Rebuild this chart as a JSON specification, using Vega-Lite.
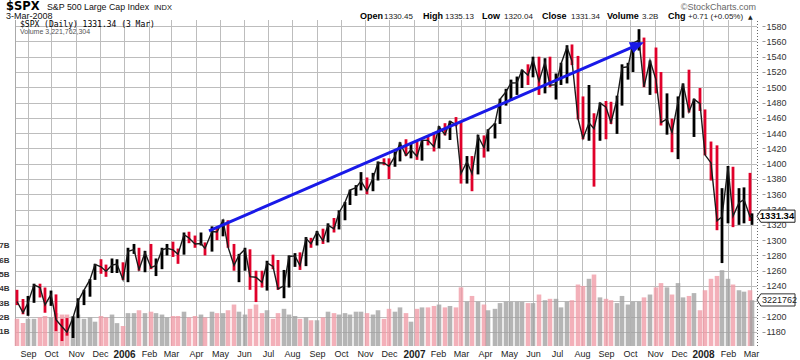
{
"$schema":"https://vega.github.io/schema/vega-lite/v6.json",
"width":752,"height":326,"autosize":"none",
"padding":{"left":10,"top":20,"right":38,"bottom":14},
"background":"white",
"config":{"view":{"stroke":null},"axis":{"labelFont":"Liberation Sans"},"text":{"font":"Liberation Sans"}},
"datasets":{
"spx":[
{"d":"2005-08-19","open":1221,"h":1235,"l":1215,"c":1219.7,"vol":1.9},
{"d":"2005-08-26","open":1219.7,"h":1223,"l":1203,"c":1205.1,"vol":1.6},
{"d":"2005-09-02","open":1205.1,"h":1227,"l":1201,"c":1218.0,"vol":1.9},
{"d":"2005-09-09","open":1218.0,"h":1243,"l":1218,"c":1241.5,"vol":1.9},
{"d":"2005-09-16","open":1241.5,"h":1243,"l":1225,"c":1237.9,"vol":2.0},
{"d":"2005-09-23","open":1237.9,"h":1238,"l":1205,"c":1215.3,"vol":2.1},
{"d":"2005-09-30","open":1215.3,"h":1234,"l":1214,"c":1228.8,"vol":2.0},
{"d":"2005-10-07","open":1228.8,"h":1229,"l":1181,"c":1195.9,"vol":2.3},
{"d":"2005-10-14","open":1195.9,"h":1197,"l":1168,"c":1186.6,"vol":2.2},
{"d":"2005-10-21","open":1186.6,"h":1198,"l":1175,"c":1179.6,"vol":2.2},
{"d":"2005-10-28","open":1179.6,"h":1200,"l":1172,"c":1198.4,"vol":2.1},
{"d":"2005-11-04","open":1198.4,"h":1224,"l":1198,"c":1220.1,"vol":2.2},
{"d":"2005-11-11","open":1220.1,"h":1235,"l":1215,"c":1234.7,"vol":1.9},
{"d":"2005-11-18","open":1234.7,"h":1249,"l":1226,"c":1248.3,"vol":2.0},
{"d":"2005-11-25","open":1248.3,"h":1269,"l":1248,"c":1268.3,"vol":1.7},
{"d":"2005-12-02","open":1268.3,"h":1275,"l":1256,"c":1265.1,"vol":2.1},
{"d":"2005-12-09","open":1265.1,"h":1268,"l":1252,"c":1259.4,"vol":2.0},
{"d":"2005-12-16","open":1259.4,"h":1276,"l":1257,"c":1267.3,"vol":2.2},
{"d":"2005-12-23","open":1267.3,"h":1275,"l":1257,"c":1268.7,"vol":1.6},
{"d":"2005-12-30","open":1268.7,"h":1271,"l":1248,"c":1248.3,"vol":1.4},
{"d":"2006-01-06","open":1248.3,"h":1290,"l":1245,"c":1285.5,"vol":2.3},
{"d":"2006-01-13","open":1285.5,"h":1295,"l":1282,"c":1287.6,"vol":2.3},
{"d":"2006-01-20","open":1287.6,"h":1290,"l":1260,"c":1261.5,"vol":2.5},
{"d":"2006-01-27","open":1261.5,"h":1286,"l":1258,"c":1283.7,"vol":2.3},
{"d":"2006-02-03","open":1283.7,"h":1295,"l":1262,"c":1264.0,"vol":2.4},
{"d":"2006-02-10","open":1264.0,"h":1276,"l":1253,"c":1266.9,"vol":2.3},
{"d":"2006-02-17","open":1266.9,"h":1290,"l":1262,"c":1287.2,"vol":2.2},
{"d":"2006-02-24","open":1287.2,"h":1295,"l":1280,"c":1289.4,"vol":2.0},
{"d":"2006-03-03","open":1289.4,"h":1298,"l":1278,"c":1287.2,"vol":2.1},
{"d":"2006-03-10","open":1287.2,"h":1289,"l":1269,"c":1281.4,"vol":2.1},
{"d":"2006-03-17","open":1281.4,"h":1310,"l":1281,"c":1307.3,"vol":2.4},
{"d":"2006-03-24","open":1307.3,"h":1311,"l":1296,"c":1302.9,"vol":2.0},
{"d":"2006-03-31","open":1302.9,"h":1306,"l":1290,"c":1294.9,"vol":2.1},
{"d":"2006-04-07","open":1294.9,"h":1310,"l":1293,"c":1295.5,"vol":2.2},
{"d":"2006-04-13","open":1295.5,"h":1297,"l":1280,"c":1289.1,"vol":2.0},
{"d":"2006-04-21","open":1289.1,"h":1318,"l":1285,"c":1311.3,"vol":2.4},
{"d":"2006-04-28","open":1311.3,"h":1316,"l":1300,"c":1310.6,"vol":2.3},
{"d":"2006-05-05","open":1310.6,"h":1327,"l":1305,"c":1325.8,"vol":2.3},
{"d":"2006-05-12","open":1325.8,"h":1326,"l":1290,"c":1291.2,"vol":2.5},
{"d":"2006-05-19","open":1291.2,"h":1295,"l":1260,"c":1267.0,"vol":2.9},
{"d":"2006-05-26","open":1267.0,"h":1282,"l":1245,"c":1280.2,"vol":2.4},
{"d":"2006-06-02","open":1280.2,"h":1290,"l":1260,"c":1288.2,"vol":2.2},
{"d":"2006-06-09","open":1288.2,"h":1288,"l":1235,"c":1252.3,"vol":2.6},
{"d":"2006-06-16","open":1252.3,"h":1260,"l":1219,"c":1251.5,"vol":2.9},
{"d":"2006-06-23","open":1251.5,"h":1260,"l":1238,"c":1244.5,"vol":2.3},
{"d":"2006-06-30","open":1244.5,"h":1273,"l":1234,"c":1270.2,"vol":2.5},
{"d":"2006-07-07","open":1270.2,"h":1281,"l":1262,"c":1265.5,"vol":1.9},
{"d":"2006-07-14","open":1265.5,"h":1274,"l":1235,"c":1236.2,"vol":2.3},
{"d":"2006-07-21","open":1236.2,"h":1261,"l":1224,"c":1240.3,"vol":2.6},
{"d":"2006-07-28","open":1240.3,"h":1280,"l":1238,"c":1278.6,"vol":2.2},
{"d":"2006-08-04","open":1278.6,"h":1283,"l":1265,"c":1279.4,"vol":2.1},
{"d":"2006-08-11","open":1279.4,"h":1284,"l":1261,"c":1266.7,"vol":1.9},
{"d":"2006-08-18","open":1266.7,"h":1304,"l":1266,"c":1302.3,"vol":2.0},
{"d":"2006-08-25","open":1302.3,"h":1303,"l":1290,"c":1295.1,"vol":1.8},
{"d":"2006-09-01","open":1295.1,"h":1312,"l":1293,"c":1311.0,"vol":1.8},
{"d":"2006-09-08","open":1311.0,"h":1315,"l":1295,"c":1299.0,"vol":2.0},
{"d":"2006-09-15","open":1299.0,"h":1322,"l":1297,"c":1319.7,"vol":2.4},
{"d":"2006-09-22","open":1319.7,"h":1329,"l":1310,"c":1314.8,"vol":2.3},
{"d":"2006-09-29","open":1314.8,"h":1339,"l":1314,"c":1335.9,"vol":2.2},
{"d":"2006-10-06","open":1335.9,"h":1350,"l":1326,"c":1349.6,"vol":2.3},
{"d":"2006-10-13","open":1349.6,"h":1366,"l":1346,"c":1365.6,"vol":2.2},
{"d":"2006-10-20","open":1365.6,"h":1372,"l":1358,"c":1368.6,"vol":2.4},
{"d":"2006-10-27","open":1368.6,"h":1389,"l":1365,"c":1377.3,"vol":2.4},
{"d":"2006-11-03","open":1377.3,"h":1382,"l":1360,"c":1364.3,"vol":2.3},
{"d":"2006-11-10","open":1364.3,"h":1388,"l":1364,"c":1380.9,"vol":2.2},
{"d":"2006-11-17","open":1380.9,"h":1403,"l":1378,"c":1401.2,"vol":2.5},
{"d":"2006-11-24","open":1401.2,"h":1407,"l":1398,"c":1400.9,"vol":1.9},
{"d":"2006-12-01","open":1400.9,"h":1407,"l":1380,"c":1396.7,"vol":2.6},
{"d":"2006-12-08","open":1396.7,"h":1416,"l":1396,"c":1409.8,"vol":2.4},
{"d":"2006-12-15","open":1409.8,"h":1428,"l":1403,"c":1427.1,"vol":2.7},
{"d":"2006-12-22","open":1427.1,"h":1432,"l":1410,"c":1410.8,"vol":2.3},
{"d":"2006-12-29","open":1410.8,"h":1427,"l":1407,"c":1418.3,"vol":1.7},
{"d":"2007-01-05","open":1418.3,"h":1429,"l":1405,"c":1409.7,"vol":2.6},
{"d":"2007-01-12","open":1409.7,"h":1431,"l":1404,"c":1430.7,"vol":2.7},
{"d":"2007-01-19","open":1430.7,"h":1437,"l":1424,"c":1430.5,"vol":2.7},
{"d":"2007-01-26","open":1430.5,"h":1441,"l":1416,"c":1422.2,"vol":2.8},
{"d":"2007-02-02","open":1422.2,"h":1449,"l":1420,"c":1448.4,"vol":2.9},
{"d":"2007-02-09","open":1448.4,"h":1453,"l":1437,"c":1438.1,"vol":2.7},
{"d":"2007-02-16","open":1438.1,"h":1456,"l":1431,"c":1455.5,"vol":2.8},
{"d":"2007-02-23","open":1455.5,"h":1461,"l":1449,"c":1451.2,"vol":2.7},
{"d":"2007-03-02","open":1451.2,"h":1456,"l":1374,"c":1387.2,"vol":4.1},
{"d":"2007-03-09","open":1387.2,"h":1410,"l":1374,"c":1402.8,"vol":3.1},
{"d":"2007-03-16","open":1402.8,"h":1410,"l":1364,"c":1386.9,"vol":3.5},
{"d":"2007-03-23","open":1386.9,"h":1438,"l":1386,"c":1436.1,"vol":3.1},
{"d":"2007-03-30","open":1436.1,"h":1437,"l":1408,"c":1420.9,"vol":2.9},
{"d":"2007-04-05","open":1420.9,"h":1445,"l":1416,"c":1443.8,"vol":2.5},
{"d":"2007-04-13","open":1443.8,"h":1453,"l":1433,"c":1452.9,"vol":2.6},
{"d":"2007-04-20","open":1452.9,"h":1485,"l":1452,"c":1484.4,"vol":3.0},
{"d":"2007-04-27","open":1484.4,"h":1498,"l":1476,"c":1494.1,"vol":3.1},
{"d":"2007-05-04","open":1494.1,"h":1510,"l":1482,"c":1505.6,"vol":3.1},
{"d":"2007-05-11","open":1505.6,"h":1514,"l":1490,"c":1505.9,"vol":3.1},
{"d":"2007-05-18","open":1505.9,"h":1523,"l":1499,"c":1522.8,"vol":3.1},
{"d":"2007-05-25","open":1522.8,"h":1530,"l":1503,"c":1515.7,"vol":3.0},
{"d":"2007-06-01","open":1515.7,"h":1540,"l":1513,"c":1536.3,"vol":3.0},
{"d":"2007-06-08","open":1536.3,"h":1540,"l":1490,"c":1507.7,"vol":3.6},
{"d":"2007-06-15","open":1507.7,"h":1538,"l":1492,"c":1532.9,"vol":3.2},
{"d":"2007-06-22","open":1532.9,"h":1540,"l":1500,"c":1502.6,"vol":3.3},
{"d":"2007-06-29","open":1502.6,"h":1518,"l":1484,"c":1503.4,"vol":3.3},
{"d":"2007-07-06","open":1503.4,"h":1532,"l":1503,"c":1530.4,"vol":2.7},
{"d":"2007-07-13","open":1530.4,"h":1555,"l":1505,"c":1552.5,"vol":3.1},
{"d":"2007-07-20","open":1552.5,"h":1556,"l":1529,"c":1534.1,"vol":3.2},
{"d":"2007-07-27","open":1534.1,"h":1541,"l":1458,"c":1458.9,"vol":4.3},
{"d":"2007-08-03","open":1458.9,"h":1488,"l":1432,"c":1433.1,"vol":4.2},
{"d":"2007-08-10","open":1433.1,"h":1503,"l":1430,"c":1453.6,"vol":4.7},
{"d":"2007-08-17","open":1453.6,"h":1466,"l":1370,"c":1445.9,"vol":5.0},
{"d":"2007-08-24","open":1445.9,"h":1480,"l":1430,"c":1479.4,"vol":3.4},
{"d":"2007-08-31","open":1479.4,"h":1482,"l":1432,"c":1473.9,"vol":3.3},
{"d":"2007-09-07","open":1473.9,"h":1481,"l":1452,"c":1454.0,"vol":3.2},
{"d":"2007-09-14","open":1454.0,"h":1489,"l":1439,"c":1484.3,"vol":3.0},
{"d":"2007-09-21","open":1484.3,"h":1530,"l":1476,"c":1525.8,"vol":3.5},
{"d":"2007-09-28","open":1525.8,"h":1532,"l":1510,"c":1526.8,"vol":2.9},
{"d":"2007-10-05","open":1526.8,"h":1559,"l":1520,"c":1557.6,"vol":3.1},
{"d":"2007-10-12","open":1557.6,"h":1576,"l":1548,"c":1561.8,"vol":3.1},
{"d":"2007-10-19","open":1561.8,"h":1565,"l":1500,"c":1500.6,"vol":3.4},
{"d":"2007-10-26","open":1500.6,"h":1535,"l":1490,"c":1535.3,"vol":3.6},
{"d":"2007-11-02","open":1535.3,"h":1552,"l":1492,"c":1509.7,"vol":4.1},
{"d":"2007-11-09","open":1509.7,"h":1520,"l":1450,"c":1453.7,"vol":4.4},
{"d":"2007-11-16","open":1453.7,"h":1492,"l":1438,"c":1458.7,"vol":4.1},
{"d":"2007-11-23","open":1458.7,"h":1459,"l":1415,"c":1440.7,"vol":3.6},
{"d":"2007-11-30","open":1440.7,"h":1488,"l":1406,"c":1481.1,"vol":4.4},
{"d":"2007-12-07","open":1481.1,"h":1505,"l":1460,"c":1504.7,"vol":3.4},
{"d":"2007-12-14","open":1504.7,"h":1523,"l":1467,"c":1467.9,"vol":3.5},
{"d":"2007-12-21","open":1467.9,"h":1485,"l":1435,"c":1484.5,"vol":3.7},
{"d":"2007-12-28","open":1484.5,"h":1499,"l":1469,"c":1478.5,"vol":2.5},
{"d":"2008-01-04","open":1478.5,"h":1471,"l":1411,"c":1411.6,"vol":3.9},
{"d":"2008-01-11","open":1411.6,"h":1429,"l":1378,"c":1401.0,"vol":4.7},
{"d":"2008-01-18","open":1401.0,"h":1424,"l":1313,"c":1325.2,"vol":4.9},
{"d":"2008-01-25","open":1325.2,"h":1368,"l":1270,"c":1330.6,"vol":5.3},
{"d":"2008-02-01","open":1330.6,"h":1397,"l":1322,"c":1395.4,"vol":4.7},
{"d":"2008-02-08","open":1395.4,"h":1396,"l":1317,"c":1331.3,"vol":4.3},
{"d":"2008-02-15","open":1331.3,"h":1368,"l":1320,"c":1349.0,"vol":3.9},
{"d":"2008-02-22","open":1349.0,"h":1369,"l":1322,"c":1353.1,"vol":3.8},
{"d":"2008-02-29","open":1353.1,"h":1388,"l":1325,"c":1330.6,"vol":3.9},
{"d":"2008-03-03","open":1330.6,"h":1335,"l":1320,"c":1331.3,"vol":3.2}
],
"arrow":[{"x1":"2006-04-18","y1":1312,"x2":"2007-10-09","y2":1555,"tx":"2007-10-18","ty":1559}],
"months":[{"m":"2005-09-01"},{"m":"2005-10-01"},{"m":"2005-11-01"},{"m":"2005-12-01"},{"m":"2006-01-01"},{"m":"2006-02-01"},{"m":"2006-03-01"},{"m":"2006-04-01"},{"m":"2006-05-01"},{"m":"2006-06-01"},{"m":"2006-07-01"},{"m":"2006-08-01"},{"m":"2006-09-01"},{"m":"2006-10-01"},{"m":"2006-11-01"},{"m":"2006-12-01"},{"m":"2007-01-01"},{"m":"2007-02-01"},{"m":"2007-03-01"},{"m":"2007-04-01"},{"m":"2007-05-01"},{"m":"2007-06-01"},{"m":"2007-07-01"},{"m":"2007-08-01"},{"m":"2007-09-01"},{"m":"2007-10-01"},{"m":"2007-11-01"},{"m":"2007-12-01"},{"m":"2008-01-01"},{"m":"2008-02-01"},{"m":"2008-03-01"}],
"levels":[{"p":1180},{"p":1200},{"p":1220},{"p":1240},{"p":1260},{"p":1280},{"p":1300},{"p":1320},{"p":1340},{"p":1360},{"p":1380},{"p":1400},{"p":1420},{"p":1440},{"p":1460},{"p":1480},{"p":1500},{"p":1520},{"p":1540},{"p":1560},{"p":1580}]
},
"data":{"name":"spx"},
"layer":[
{"layer":[
 {"data":{"name":"months"},"mark":{"type":"rule","color":"#bdbdbd","strokeWidth":1,"xOffset":0.5},
  "encoding":{"x":{"field":"m","type":"temporal","axis":null},
   "y":{"datum":1161.5,"type":"quantitative","scale":{"domain":[1161.5,1588],"nice":false,"zero":false,"round":true},"axis":null},
   "y2":{"datum":1588}}},
 {"data":{"name":"levels"},"mark":{"type":"rule","color":"#bdbdbd","strokeWidth":1,"yOffset":0.5},
  "encoding":{"y":{"field":"p","type":"quantitative","axis":null},
   "x":{"datum":{"year":2005,"month":8,"date":16,"utc":true},"type":"temporal","axis":null},
   "x2":{"datum":{"year":2008,"month":3,"date":9,"utc":true}}}},
 {"data":{"values":[{"m":"2005-08-16"}]},"mark":{"type":"rule","color":"#aaaaaa","strokeWidth":1,"xOffset":0.5},
  "encoding":{"x":{"field":"m","type":"temporal","axis":null},"y":{"datum":1161.5,"type":"quantitative","axis":null},"y2":{"datum":1588}}},
 {"data":{"values":[{"m":"2008-03-09"}]},"mark":{"type":"rule","color":"#666666","strokeWidth":1,"strokeDash":[1,2],"xOffset":0.5},
  "encoding":{"x":{"field":"m","type":"temporal","axis":null},"y":{"datum":1161.5,"type":"quantitative","axis":null},"y2":{"datum":1588}}}
]},
{"resolve":{"axis":{"x":"independent","y":"independent"}},
 "layer":[
 {"mark":{"type":"bar","size":4.6,"opacity":0.78},
  "encoding":{
   "x":{"field":"d","type":"temporal","title":null,"scale":{"type":"utc","round":true,"domain":[{"year":2005,"month":8,"date":16,"utc":true},{"year":2008,"month":3,"date":9,"utc":true}]},
        "axis":{"orient":"bottom","grid":false,"tickCount":{"interval":"month","step":1},"labelExpr":"utcmonth(datum.value)==0 ? utcFormat(datum.value,'%Y') : utcFormat(datum.value,'%b')","labelFontWeight":{"condition":{"test":"utcmonth(datum.value)==0","value":"bold"},"value":"normal"},"labelFontSize":{"condition":{"test":"utcmonth(datum.value)==0","value":10},"value":9},"labelColor":"#222","ticks":false,"domain":false,"labelPadding":3,"labelFlush":false,"labelOverlap":false,"labelAlign":"center"}},
   "y":{"field":"vol","type":"quantitative","title":null,"scale":{"domain":[0,22.8],"nice":false},
        "axis":{"orient":"left","values":[1,2,3,4,5,6,7],"labelExpr":"datum.value + 'B'","grid":false,"domain":false,"ticks":false,"labelPadding":1,"labelFontSize":8,"labelFontWeight":"bold","labelColor":"#333","labelOverlap":false}},
   "color":{"condition":{"test":"datum.c < datum.open","value":"#f09aa5"},"value":"#a0a0a0"}}},
 {"data":{"values":[{"vol":3.221762304,"lbl":"3221762"}]},
  "mark":{"type":"point","shape":"M0,0L0.1,-0.16L1,-0.16L1,0.16L0.1,0.16Z","size":5776,"filled":true,"fill":"white","stroke":"#333","strokeWidth":1,"opacity":1},
  "encoding":{"x":{"datum":{"year":2008,"month":3,"date":9,"utc":true},"type":"temporal","axis":null},"y":{"field":"vol","type":"quantitative","axis":null}}},
 {"data":{"values":[{"vol":3.221762304,"lbl":"3221762"}]},
  "mark":{"type":"text","align":"left","baseline":"middle","dx":5,"fontSize":9,"color":"#222"},
  "encoding":{"x":{"datum":{"year":2008,"month":3,"date":9,"utc":true},"type":"temporal","axis":null},"y":{"field":"vol","type":"quantitative","axis":null},"text":{"field":"lbl"}}}
]},
{"resolve":{"axis":{"x":"independent","y":"independent"}},
 "encoding":{
   "x":{"field":"d","type":"temporal","axis":null},
   "y":{"field":"c","type":"quantitative","scale":{"domain":[1161.5,1588],"nice":false,"zero":false},"axis":null}},
 "layer":[
 {"mark":{"type":"rule","strokeWidth":2.8},
  "encoding":{
   "y":{"field":"l","type":"quantitative","scale":{"domain":[1161.5,1588],"nice":false,"zero":false},
        "axis":{"orient":"right","title":null,"values":[1180,1200,1220,1240,1260,1280,1300,1320,1340,1360,1380,1400,1420,1440,1460,1480,1500,1520,1540,1560,1580],"format":"d","grid":false,"labelFontSize":9,"labelColor":"#333","tickSize":3,"tickColor":"#999","domain":false,"labelPadding":1,"labelOverlap":false}},
   "y2":{"field":"h"},
   "color":{"condition":{"test":"datum.c < datum.open","value":"#e0002a"},"value":"#000000"}}},
 {"mark":{"type":"line","strokeWidth":1.4,"color":"#1a1a1a"}},
 {"data":{"name":"arrow"},"mark":{"type":"rule","strokeWidth":3,"color":"#1919e8"},
  "encoding":{"x":{"field":"x1","type":"temporal","axis":null},"x2":{"field":"x2"},"y":{"field":"y1","type":"quantitative","axis":null},"y2":{"field":"y2"}}},
 {"data":{"name":"arrow"},"mark":{"type":"point","shape":"M0,0L-1,-0.42L-1,0.42Z","size":784,"filled":true,"color":"#1919e8","angle":336.8,"opacity":1},
  "encoding":{"x":{"field":"tx","type":"temporal","axis":null},"y":{"field":"ty","type":"quantitative","axis":null}}},
 {"data":{"values":[{"d":"2008-03-09","c":1331.34,"lbl":"1331.34"}]},
  "mark":{"type":"point","shape":"M0,0L0.1,-0.16L1,-0.16L1,0.16L0.1,0.16Z","size":5776,"filled":true,"fill":"white","stroke":"#222","strokeWidth":1,"opacity":1}},
 {"data":{"values":[{"d":"2008-03-09","c":1331.34,"lbl":"1331.34"}]},
  "mark":{"type":"text","align":"center","baseline":"middle","dx":20,"fontSize":9.5,"fontWeight":"bold","color":"#000"},
  "encoding":{"text":{"field":"lbl"}}},
 {"data":{"values":[{"d":"2005-08-16","c":1588,"t":"$SPX"}]},"mark":{"type":"text","align":"left","baseline":"alphabetic","dx":-9,"dy":-10.5,"font":"DejaVu Sans","fontSize":11.5,"fontWeight":"bold","color":"#000"},"encoding":{"text":{"field":"t"}}},
 {"data":{"values":[{"d":"2005-08-16","c":1588,"t":"S&P 500 Large Cap Index"}]},"mark":{"type":"text","align":"left","baseline":"alphabetic","dx":32,"dy":-10.5,"fontSize":8.8,"color":"#111"},"encoding":{"text":{"field":"t"}}},
 {"data":{"values":[{"d":"2005-08-16","c":1588,"t":"INDX"}]},"mark":{"type":"text","align":"left","baseline":"alphabetic","dx":139,"dy":-10.5,"fontSize":7.5,"color":"#111"},"encoding":{"text":{"field":"t"}}},
 {"data":{"values":[{"d":"2005-08-16","c":1588,"t":"3-Mar-2008"}]},"mark":{"type":"text","align":"left","baseline":"alphabetic","dx":-9,"dy":-1,"fontSize":9,"color":"#111"},"encoding":{"text":{"field":"t"}}},
 {"data":{"values":[{"d":"2005-08-16","c":1588,"t":"$SPX (Daily) 1331.34 (3 Mar)"}]},"mark":{"type":"text","align":"left","baseline":"alphabetic","dx":5,"dy":7,"font":"DejaVu Sans Mono","fontSize":8,"color":"#000"},"encoding":{"text":{"field":"t"}}},
 {"data":{"values":[{"d":"2005-08-16","c":1588,"t":"Volume 3,221,762,304"}]},"mark":{"type":"text","align":"left","baseline":"alphabetic","dx":5,"dy":13.5,"fontSize":7,"color":"#555"},"encoding":{"text":{"field":"t"}}},
 {"data":{"values":[{"d":"2008-03-09","c":1588,"t":"©StockCharts.com"}]},"mark":{"type":"text","align":"right","baseline":"alphabetic","dx":-1,"dy":-10,"fontSize":9,"color":"#666"},"encoding":{"text":{"field":"t"}}},
 {"data":{"values":[{"d":"2008-03-09","c":1588,"t":"Open"}]},"mark":{"type":"text","align":"left","baseline":"alphabetic","dx":-397,"dy":-1,"fontSize":9,"fontWeight":"bold","color":"#000"},"encoding":{"text":{"field":"t"}}},
 {"data":{"values":[{"d":"2008-03-09","c":1588,"t":"1330.45"}]},"mark":{"type":"text","align":"left","baseline":"alphabetic","dx":-373,"dy":-1,"fontSize":8,"color":"#222"},"encoding":{"text":{"field":"t"}}},
 {"data":{"values":[{"d":"2008-03-09","c":1588,"t":"High"}]},"mark":{"type":"text","align":"left","baseline":"alphabetic","dx":-334,"dy":-1,"fontSize":9,"fontWeight":"bold","color":"#000"},"encoding":{"text":{"field":"t"}}},
 {"data":{"values":[{"d":"2008-03-09","c":1588,"t":"1335.13"}]},"mark":{"type":"text","align":"left","baseline":"alphabetic","dx":-312,"dy":-1,"fontSize":8,"color":"#222"},"encoding":{"text":{"field":"t"}}},
 {"data":{"values":[{"d":"2008-03-09","c":1588,"t":"Low"}]},"mark":{"type":"text","align":"left","baseline":"alphabetic","dx":-275,"dy":-1,"fontSize":9,"fontWeight":"bold","color":"#000"},"encoding":{"text":{"field":"t"}}},
 {"data":{"values":[{"d":"2008-03-09","c":1588,"t":"1320.04"}]},"mark":{"type":"text","align":"left","baseline":"alphabetic","dx":-253,"dy":-1,"fontSize":8,"color":"#222"},"encoding":{"text":{"field":"t"}}},
 {"data":{"values":[{"d":"2008-03-09","c":1588,"t":"Close"}]},"mark":{"type":"text","align":"left","baseline":"alphabetic","dx":-215,"dy":-1,"fontSize":9,"fontWeight":"bold","color":"#000"},"encoding":{"text":{"field":"t"}}},
 {"data":{"values":[{"d":"2008-03-09","c":1588,"t":"1331.34"}]},"mark":{"type":"text","align":"left","baseline":"alphabetic","dx":-186,"dy":-1,"fontSize":8,"color":"#222"},"encoding":{"text":{"field":"t"}}},
 {"data":{"values":[{"d":"2008-03-09","c":1588,"t":"Volume"}]},"mark":{"type":"text","align":"left","baseline":"alphabetic","dx":-150,"dy":-1,"fontSize":9,"fontWeight":"bold","color":"#000"},"encoding":{"text":{"field":"t"}}},
 {"data":{"values":[{"d":"2008-03-09","c":1588,"t":"3.2B"}]},"mark":{"type":"text","align":"left","baseline":"alphabetic","dx":-115,"dy":-1,"fontSize":8,"color":"#222"},"encoding":{"text":{"field":"t"}}},
 {"data":{"values":[{"d":"2008-03-09","c":1588,"t":"Chg"}]},"mark":{"type":"text","align":"left","baseline":"alphabetic","dx":-89,"dy":-1,"fontSize":9,"fontWeight":"bold","color":"#000"},"encoding":{"text":{"field":"t"}}},
 {"data":{"values":[{"d":"2008-03-09","c":1588,"t":"+0.71 (+0.05%)"}]},"mark":{"type":"text","align":"left","baseline":"alphabetic","dx":-69,"dy":-1,"fontSize":8,"color":"#222"},"encoding":{"text":{"field":"t"}}},
 {"data":{"values":[{"d":"2008-03-09","c":1588,"t":"▲"}]},"mark":{"type":"text","align":"left","baseline":"alphabetic","dx":-9,"dy":-1,"font":"DejaVu Sans","fontSize":6,"color":"#222"},"encoding":{"text":{"field":"t"}}}
 ]}
],
"resolve":{"scale":{"y":"independent"},"axis":{"x":"independent","y":"independent"}}
}
